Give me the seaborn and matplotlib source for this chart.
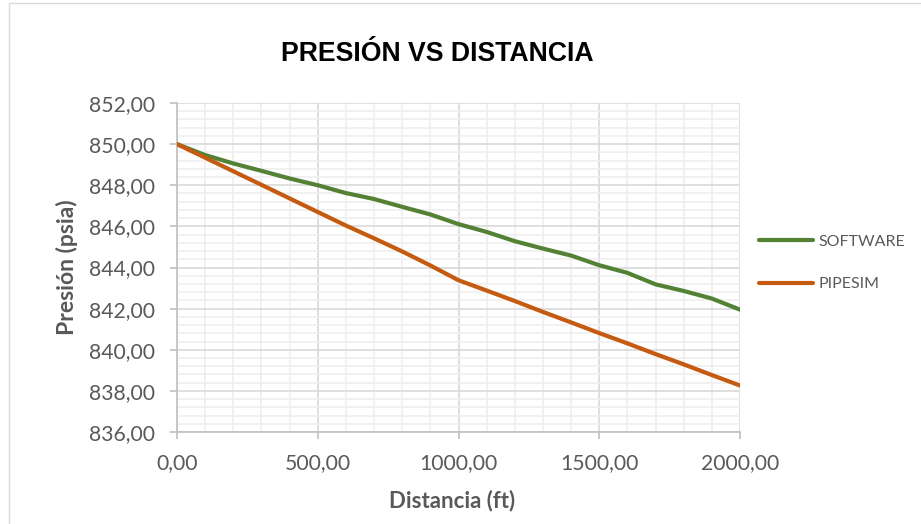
import matplotlib
matplotlib.use("Agg")
import matplotlib.pyplot as plt
import pandas as pd
import seaborn as sns
from matplotlib.ticker import MultipleLocator, FuncFormatter
from matplotlib.patches import Rectangle
from matplotlib.lines import Line2D

# Distance along the pipe (ft) and pressure profiles (psia)
distancia = [0, 100, 200, 300, 400, 500, 600, 700, 800, 900, 1000,
             1100, 1200, 1300, 1400, 1500, 1600, 1700, 1800, 1900, 2000]
software = [850.00, 849.47, 849.06, 848.70, 848.33, 848.00, 847.62, 847.33,
            846.95, 846.58, 846.11, 845.73, 845.28, 844.92, 844.58, 844.11,
            843.74, 843.18, 842.86, 842.49, 841.95]
pipesim = [850.00, 849.34, 848.68, 848.02, 847.36, 846.70, 846.04, 845.42,
           844.78, 844.10, 843.38, 842.88, 842.37, 841.84, 841.33, 840.81,
           840.31, 839.79, 839.29, 838.77, 838.26]
series_names = ["SOFTWARE", "PIPESIM"]
series_colors = ["#548235", "#C55A11"]

df = pd.DataFrame({
    "Distancia": distancia + distancia,
    "Presion": software + pipesim,
    "Serie": [series_names[0]] * len(distancia) + [series_names[1]] * len(distancia),
})

sns.set_theme(style="white")
plt.rcParams["font.family"] = ["Lato", "DejaVu Sans"]

W, H = 921, 524
fig = plt.figure(figsize=(W / 100, H / 100), dpi=100)
fig.patch.set_facecolor("white")

# outer chart border
fig.add_artist(Rectangle((9 / W, -0.1), 2, 1 - 3 / H + 0.1, transform=fig.transFigure,
                         fill=False, edgecolor="#D9D9D9", lw=1.0))

ax = fig.add_axes([177 / W, 1 - 432 / H, (740 - 177) / W, (432 - 103) / H])
palette = dict(zip(series_names, series_colors))
sns.lineplot(data=df, x="Distancia", y="Presion", hue="Serie", palette=palette,
             linewidth=3.0, ax=ax, legend=False, zorder=3)

ax.set_xlim(0, 2000)
ax.set_ylim(836, 852)
ax.xaxis.set_major_locator(MultipleLocator(500))
ax.xaxis.set_minor_locator(MultipleLocator(100))
ax.yaxis.set_major_locator(MultipleLocator(2))
ax.yaxis.set_minor_locator(MultipleLocator(0.4))
fmt = FuncFormatter(lambda v, p: f"{v:.2f}".replace(".", ","))
ax.xaxis.set_major_formatter(fmt)
ax.yaxis.set_major_formatter(fmt)

ax.set_axisbelow(True)
ax.grid(which="minor", color="#EFEFEF", lw=1.2)
ax.grid(which="major", color="#D9D9D9", lw=1.2)

for s in ["top", "right"]:
    ax.spines[s].set_visible(False)
for s in ["left", "bottom"]:
    ax.spines[s].set_color("#BFBFBF")
    ax.spines[s].set_linewidth(1.2)

ax.tick_params(which="major", direction="out", length=5, width=1.2, color="#BFBFBF",
               labelcolor="#595959", labelsize=15.2)
ax.tick_params(axis="y", which="major", pad=11, left=True)
ax.tick_params(axis="x", which="major", pad=10, bottom=True)
ax.tick_params(which="minor", length=0)

ax.set_xlabel("Distancia (ft)", fontsize=16, fontweight="bold", color="#595959", va="center")
ax.set_ylabel("Presión (psia)", fontsize=16.5, fontweight="bold", color="#595959", va="center")
ax.xaxis.set_label_coords((452 - 177) / 563, -(501 - 432) / 329)
ax.yaxis.set_label_coords((67 - 177) / 563, 0.5)

fig.text(437 / W, 1 - 54 / H, "PRESIÓN VS DISTANCIA", ha="center", va="center",
         fontsize=19.2, fontweight="bold", family=["Liberation Sans", "DejaVu Sans"],
         color="black")

handles = [Line2D([], [], color=c, lw=3.0) for c in series_colors]
ax.legend(handles, series_names, loc="center left", bbox_to_anchor=(759 / W, 1 - 263 / H),
          bbox_transform=fig.transFigure, frameon=False, fontsize=11.5,
          handlelength=3.4, handletextpad=0.3, labelspacing=1.75, borderpad=0,
          borderaxespad=0, labelcolor="#595959")

fig.savefig("out.png", dpi=100, facecolor="white")
